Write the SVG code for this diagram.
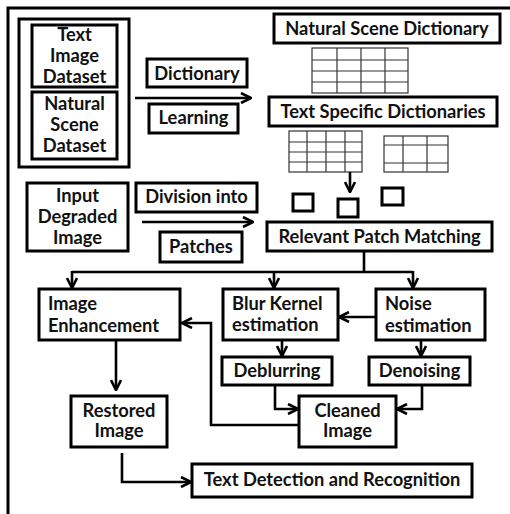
<svg xmlns="http://www.w3.org/2000/svg" width="510" height="514" viewBox="0 0 510 514">
<defs>
<marker id="ah" viewBox="0 0 12 12" refX="11" refY="6" markerWidth="12" markerHeight="12" markerUnits="userSpaceOnUse" orient="auto">
<path d="M1,1 L11,6 L1,11" fill="none" stroke="#000" stroke-width="2.6"/>
</marker>
<style>
.b{fill:#fff;stroke:#000;stroke-width:3}
.t{font-family:Lato,"Liberation Sans",sans-serif;font-weight:bold;font-size:18.3px;fill:#111;text-anchor:middle}
.l{text-anchor:start}
.g{fill:none;stroke:#333;stroke-width:1.2}
.c{fill:none;stroke:#000;stroke-width:2.6}
</style>
</defs>
<rect width="510" height="514" fill="#fff"/>
<path d="M8,514 V8 H510" fill="none" stroke="#000" stroke-width="3"/>

<g id="datasets">
<rect class="b" x="19" y="19" width="110" height="148"/>
<g id="text-image-dataset">
<rect class="b" x="32" y="25" width="85" height="62"/>
<text class="t" x="74.5" y="41">Text</text>
<text class="t" x="74.5" y="62">Image</text>
<text class="t" x="74.5" y="83">Dataset</text>
</g>
<g id="natural-scene-dataset">
<rect class="b" x="32" y="92" width="85" height="67"/>
<text class="t" x="74.5" y="110">Natural</text>
<text class="t" x="74.5" y="131">Scene</text>
<text class="t" x="74.5" y="152">Dataset</text>
</g>
</g>

<g id="dictionary"><rect class="b" x="147" y="59" width="100" height="28"/><text class="t" x="197" y="80">Dictionary</text></g>
<g id="learning"><rect class="b" x="149" y="104" width="89" height="29"/><text class="t" x="193.5" y="124">Learning</text></g>

<g id="natural-scene-dictionary"><rect class="b" x="274" y="14" width="226" height="29"/><text class="t" x="387" y="35">Natural Scene Dictionary</text></g>
<g id="grid1">
<rect class="g" x="312" y="48" width="96" height="45"/>
<path class="g" d="M312,60H408M312,71H408M312,82H408M337,48V93M361,48V93M385,48V93"/>
</g>
<g id="text-specific-dictionaries"><rect class="b" x="269" y="97" width="228" height="29"/><text class="t" x="383" y="118">Text Specific Dictionaries</text></g>
<g id="grid2">
<rect class="g" x="289" y="131" width="73" height="41"/>
<path class="g" d="M289,142H362M289,152H362M289,162H362M307,131V172M326,131V172M345,131V172"/>
</g>
<g id="grid3">
<rect class="g" x="384" y="136" width="64" height="36"/>
<path class="g" d="M384,145H448M384,163H448M403,136V172M427,136V172"/>
</g>
<g id="patches-small">
<rect class="b" x="293" y="194" width="20" height="17"/>
<rect class="b" x="338" y="199" width="20" height="18"/>
<rect class="b" x="382" y="188" width="21" height="17"/>
</g>

<g id="input-degraded-image"><rect class="b" x="27" y="183" width="101" height="68"/>
<text class="t" x="77.5" y="202">Input</text><text class="t" x="77.5" y="223">Degraded</text><text class="t" x="77.5" y="244">Image</text></g>
<g id="division-into"><rect class="b" x="136" y="183" width="121" height="29"/><text class="t" x="196.5" y="203">Division into</text></g>
<g id="patches"><rect class="b" x="160" y="232" width="82" height="30"/><text class="t" x="201" y="253">Patches</text></g>
<g id="relevant-patch-matching"><rect class="b" x="267" y="222" width="225" height="29"/><text class="t" x="379.5" y="243">Relevant Patch Matching</text></g>

<g id="image-enhancement"><rect class="b" x="39" y="289" width="141" height="51"/>
<text class="t l" x="48" y="310">Image</text><text class="t l" x="48" y="332">Enhancement</text></g>
<g id="blur-kernel-estimation"><rect class="b" x="223" y="289" width="115" height="51"/>
<text class="t l" x="232" y="310">Blur Kernel</text><text class="t l" x="232" y="331">estimation</text></g>
<g id="noise-estimation"><rect class="b" x="376" y="289" width="109" height="51"/>
<text class="t l" x="385" y="310">Noise</text><text class="t l" x="385" y="332">estimation</text></g>
<g id="deblurring"><rect class="b" x="222" y="357" width="110" height="28"/><text class="t" x="277" y="377">Deblurring</text></g>
<g id="denoising"><rect class="b" x="369" y="357" width="101" height="28"/><text class="t" x="419.5" y="377">Denoising</text></g>
<g id="cleaned-image"><rect class="b" x="299" y="396" width="97" height="51"/>
<text class="t" x="347.5" y="417">Cleaned</text><text class="t" x="347.5" y="437">Image</text></g>
<g id="restored-image"><rect class="b" x="71" y="396" width="96" height="51"/>
<text class="t" x="119" y="417">Restored</text><text class="t" x="119" y="437">Image</text></g>
<g id="text-detection"><rect class="b" x="192" y="464" width="280" height="33"/><text class="t" x="332" y="486">Text Detection and Recognition</text></g>

<g id="connectors">
<path class="c" d="M135,98H251" marker-end="url(#ah)"/>
<path class="c" d="M142,222H253" marker-end="url(#ah)"/>
<path class="c" d="M350,172V192" marker-end="url(#ah)"/>
<path class="c" d="M364,252V272"/>
<path class="c" d="M72,272H413"/>
<path class="c" d="M72,271V288" marker-end="url(#ah)"/>
<path class="c" d="M274,271V288" marker-end="url(#ah)"/>
<path class="c" d="M413,271V288" marker-end="url(#ah)"/>
<path class="c" d="M376,317H339" marker-end="url(#ah)"/>
<path class="c" d="M282,340V356" marker-end="url(#ah)"/>
<path class="c" d="M421,340V356" marker-end="url(#ah)"/>
<path class="c" d="M275,385V409H298" marker-end="url(#ah)"/>
<path class="c" d="M422,385V409H397" marker-end="url(#ah)"/>
<path class="c" d="M299,425H211V323H182" marker-end="url(#ah)"/>
<path class="c" d="M116,340V390" marker-end="url(#ah)"/>
<path class="c" d="M122,453V482H191" marker-end="url(#ah)"/>
</g>
</svg>
